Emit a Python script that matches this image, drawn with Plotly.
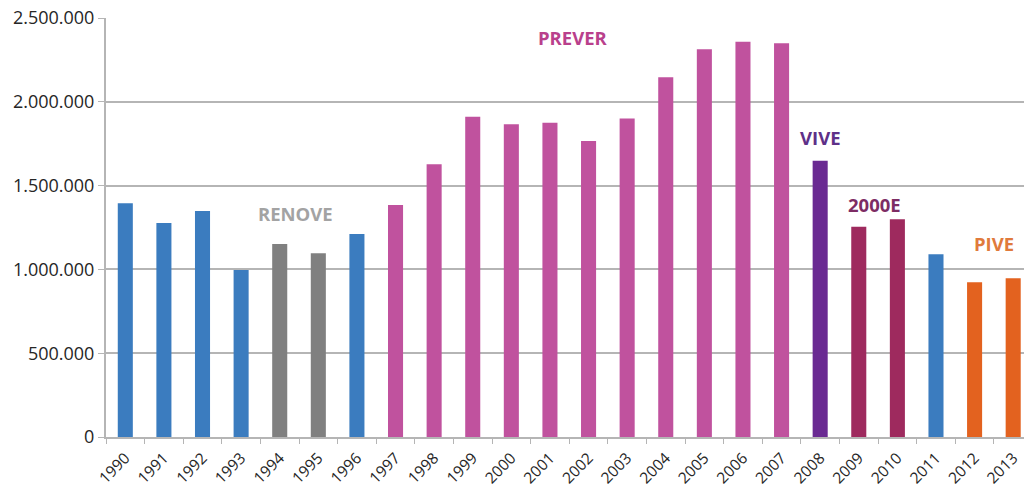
import plotly.graph_objects as go

years = [str(y) for y in range(1990, 2014)]
values = [1395000, 1277000, 1348000, 996000, 1152000, 1096000, 1211000,
          1384000, 1627000, 1911000, 1866000, 1875000, 1766000, 1901000,
          2146000, 2313000, 2359000, 2349000, 1649000, 1255000, 1299000,
          1090000, 923000, 947000]
programs = ["none", "none", "none", "none", "RENOVE", "RENOVE", "none",
            "PREVER", "PREVER", "PREVER", "PREVER", "PREVER", "PREVER", "PREVER",
            "PREVER", "PREVER", "PREVER", "PREVER", "VIVE", "2000E", "2000E",
            "none", "PIVE", "PIVE"]
bar_colors = {"none": "#3b7cbf", "RENOVE": "#808080", "PREVER": "#c0529e",
              "VIVE": "#6a2a92", "2000E": "#9e2a5e", "PIVE": "#e3621f"}
ytick_vals = [0, 500000, 1000000, 1500000, 2000000, 2500000]
ytick_text = ["0", "500.000", "1.000.000", "1.500.000", "2.000.000", "2.500.000"]

label_names = ["RENOVE", "PREVER", "VIVE", "2000E", "PIVE"]
label_x = [4.4, 11.6, 18.0, 19.42, 22.5]
label_y = [1336000, 2381000, 1787000, 1390000, 1152000]
label_colors = ["#a3a3a3", "#b9408c", "#5e3088", "#7d2c64", "#e07a3c"]

fig = go.Figure()
fig.add_trace(go.Bar(
    x=years, y=values,
    marker=dict(color=[bar_colors[p] for p in programs], line=dict(width=0)),
    width=0.39,
))

for name, xx, yy, c in zip(label_names, label_x, label_y, label_colors):
    fig.add_annotation(x=xx, y=yy, xref="x", yref="y", text="<b>%s</b>" % name,
                       showarrow=False, xanchor="center", yanchor="middle",
                       font=dict(family="Open Sans", size=18.5, color=c))

fig.update_layout(
    width=1024, height=491,
    margin=dict(l=106, r=0, t=18, b=54),
    paper_bgcolor="white", plot_bgcolor="white",
    showlegend=False,
    font=dict(family="Open Sans", color="#262626"),
)
fig.update_xaxes(
    type="category", range=[-0.5, 23.28],
    showline=True, linecolor="#b5b5b5", linewidth=2,
    ticks="outside", tickson="boundaries", ticklen=5, tickcolor="#b5b5b5",
    tickangle=-45, tickfont=dict(size=15.5, color="#262626"),
    ticklabelstandoff=4,
    showgrid=False,
)
fig.update_yaxes(
    range=[0, 2500000], tickvals=ytick_vals, ticktext=ytick_text,
    showline=True, linecolor="#b5b5b5", linewidth=2,
    ticks="outside", ticklen=6, tickcolor="#b5b5b5",
    showgrid=True, gridcolor="#b5b5b5", gridwidth=2,
    zeroline=False,
    tickfont=dict(size=18, color="#262626"),
)

fig.write_html("out.html")
